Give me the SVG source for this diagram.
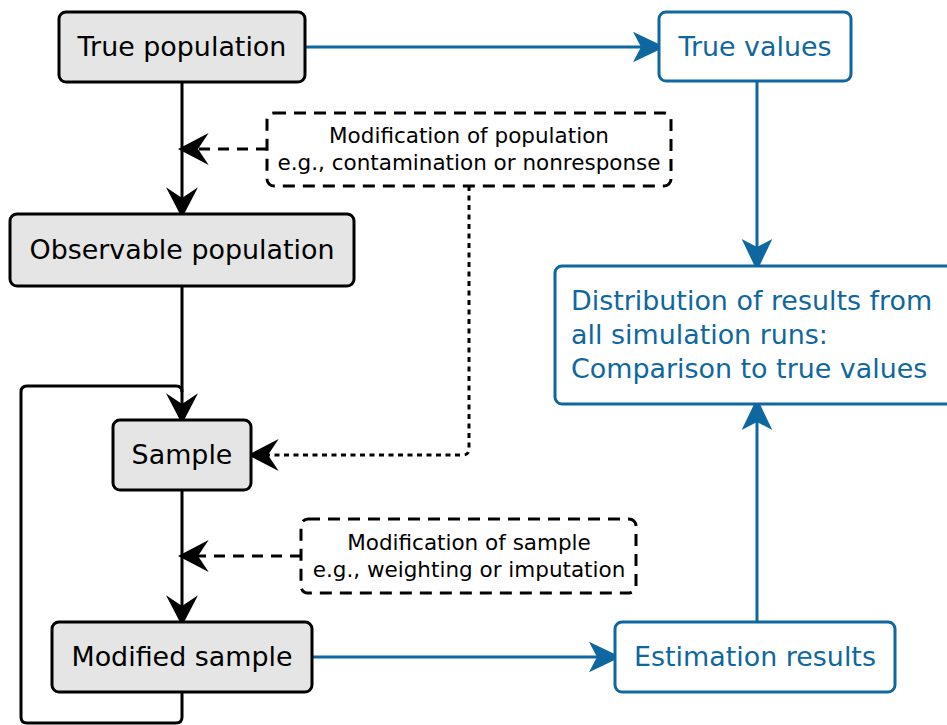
<svg xmlns="http://www.w3.org/2000/svg" width="947" height="725" viewBox="0 0 947 725">
<defs>
<style>
.box{fill:#e5e5e5;stroke:#000;stroke-width:3}
.bbox{fill:#fff;stroke:#0f679f;stroke-width:3}
.dbox{fill:#fff;stroke:#000;stroke-width:3;stroke-dasharray:12,8}
.t{font-family:"DejaVu Sans",sans-serif;font-size:26.9px;fill:#000;text-anchor:middle}
.bt{font-family:"DejaVu Sans",sans-serif;font-size:26.9px;fill:#0f679f}
.st{font-family:"DejaVu Sans",sans-serif;font-size:21.5px;fill:#000;text-anchor:middle}
.k{fill:none;stroke:#000;stroke-width:3}
.kd{fill:none;stroke:#000;stroke-width:3;stroke-dasharray:11,8}
.kdot{fill:none;stroke:#000;stroke-width:3;stroke-dasharray:5,4.5}
.b{fill:none;stroke:#0f679f;stroke-width:3}
</style>
<marker id="ak" markerUnits="userSpaceOnUse" markerWidth="40" markerHeight="40" viewBox="-12 -14 30 28" refX="0" refY="0" orient="auto" overflow="visible">
<path d="M15,0 L-8,-12 L0,0 L-8,12 Z" fill="#000"/>
</marker>
<marker id="ab" markerUnits="userSpaceOnUse" markerWidth="40" markerHeight="40" viewBox="-12 -14 30 28" refX="0" refY="0" orient="auto" overflow="visible">
<path d="M18,0 L-6,-11.5 L0,0 L-6,11.5 Z" fill="#0f679f"/>
</marker>
</defs>

<g id="connectors">
<path class="k" d="M182,82 V198" marker-end="url(#ak)"/>
<path class="k" d="M182,286 V404" marker-end="url(#ak)"/>
<path class="k" d="M182,490 V606" marker-end="url(#ak)"/>
<path class="k" d="M182,692 V717 Q182,723 176,723 H27 Q21,723 21,717 V392 Q21,386 27,386 H176 Q182,386 182,392"/>
<path class="kd" d="M267,149 H198" marker-end="url(#ak)"/>
<path class="kd" d="M301,556 H198" marker-end="url(#ak)"/>
<path class="kdot" d="M469,186 V449 Q469,455 463,455 H268" marker-end="url(#ak)"/>
<path class="b" d="M305,47 H641" marker-end="url(#ab)"/>
<path class="b" d="M757,81 V247" marker-end="url(#ab)"/>
<path class="b" d="M312,657 H597" marker-end="url(#ab)"/>
<path class="b" d="M757,622 V422" marker-end="url(#ab)"/>
</g>

<g id="true-population">
<rect class="box" x="59" y="12" width="246" height="70" rx="7"/>
<text class="t" x="182" y="56">True population</text>
</g>
<g id="true-values">
<rect class="bbox" x="659" y="12" width="192" height="69" rx="7"/>
<text class="bt" x="755" y="56" text-anchor="middle">True values</text>
</g>
<g id="mod-population">
<rect class="dbox" x="267" y="113" width="404" height="73" rx="7"/>
<text class="st" x="469" y="143">Modification of population</text>
<text class="st" x="469" y="170">e.g., contamination or nonresponse</text>
</g>
<g id="observable-population">
<rect class="box" x="10" y="214" width="344" height="72" rx="7"/>
<text class="t" x="182" y="259">Observable population</text>
</g>
<g id="distribution">
<rect class="bbox" x="555" y="266" width="420" height="138" rx="7"/>
<text class="bt" x="571" y="310">Distribution of results from</text>
<text class="bt" x="571" y="344">all simulation runs:</text>
<text class="bt" x="571" y="378">Comparison to true values</text>
</g>
<g id="sample">
<rect class="box" x="113" y="420" width="138" height="70" rx="7"/>
<text class="t" x="182" y="464">Sample</text>
</g>
<g id="mod-sample">
<rect class="dbox" x="301" y="519" width="335" height="74" rx="7"/>
<text class="st" x="469" y="550">Modification of sample</text>
<text class="st" x="469" y="577">e.g., weighting or imputation</text>
</g>
<g id="modified-sample">
<rect class="box" x="52" y="622" width="260" height="70" rx="7"/>
<text class="t" x="182" y="666">Modified sample</text>
</g>
<g id="estimation-results">
<rect class="bbox" x="615" y="622" width="280" height="70" rx="7"/>
<text class="bt" x="755" y="666" text-anchor="middle">Estimation results</text>
</g>
</svg>
